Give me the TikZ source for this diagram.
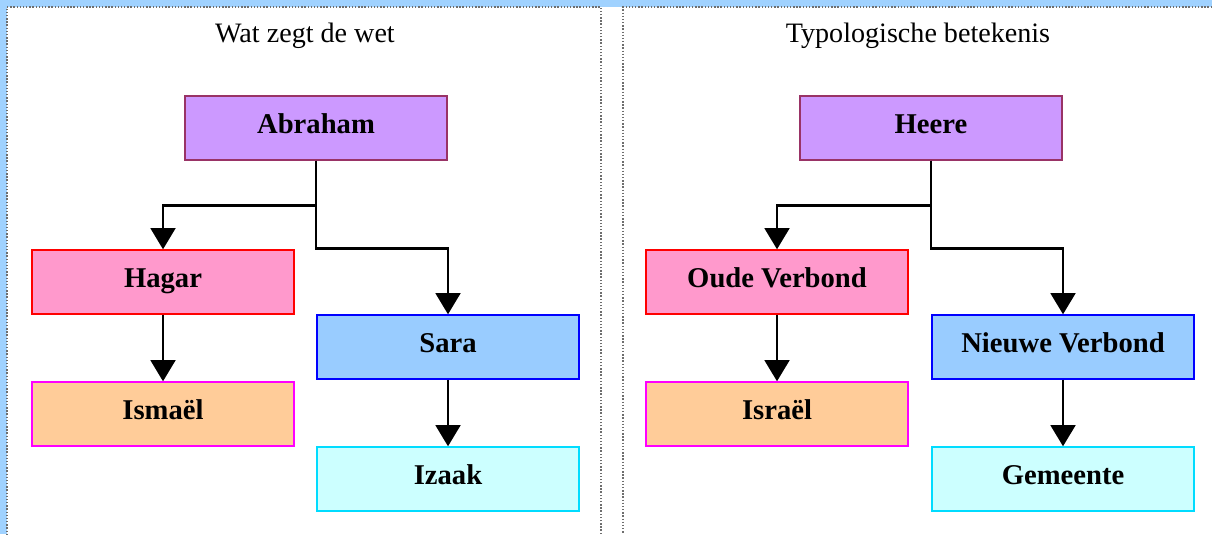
\documentclass[tikz,border=0pt]{standalone}
\usepackage{fontspec}
\setmainfont{Liberation Serif}
\usepackage{xcolor}
\usepackage{tikz}
\usetikzlibrary{arrows.meta, positioning, calc}
\definecolor{bandblue}{RGB}{160, 210, 255}
\definecolor{framegray}{RGB}{110, 110, 110}
\definecolor{rootfill}{RGB}{204, 153, 255}
\definecolor{rootdraw}{RGB}{153, 51, 102}
\definecolor{leftfill}{RGB}{255, 153, 204}
\definecolor{leftdraw}{RGB}{255, 0, 0}
\definecolor{leftkidfill}{RGB}{255, 204, 153}
\definecolor{leftkiddraw}{RGB}{255, 0, 255}
\definecolor{rightfill}{RGB}{153, 204, 255}
\definecolor{rightdraw}{RGB}{0, 0, 255}
\definecolor{rightkidfill}{RGB}{204, 255, 255}
\definecolor{rightkiddraw}{RGB}{0, 220, 255}

\begin{document}
\begin{tikzpicture}[
    x=0.02cm, y=-0.02cm,
    namebox/.style={rectangle, thick, minimum width=5.24cm, minimum height=1.28cm, inner sep=0pt, text height=11pt, text depth=5pt, text centered, font=\fontsize{16.3}{19}\selectfont\bfseries},
    panel/.style={draw=framegray, densely dotted, line width=0.8pt},
    paneltitle/.style={font=\fontsize{16}{19}\selectfont},
    arrow/.style={-{Triangle[width=14pt, length=12pt]}, line width=1.6pt, black}
]
\useasboundingbox (0,0) rectangle (1212,534);

% background and the two panels
\fill[bandblue] (0,0) rectangle (1212,534);
\fill[white] (7,7) rectangle (1212,534);
\draw[panel] (601,534) -- (601,7) -- (7,7) -- (7,534);
\draw[panel] (1212,7) -- (623,7) -- (623,534);

% left panel
\node[paneltitle] (lefttitle) at (305,36) {Wat zegt de wet};
\node[namebox, fill=rootfill, draw=rootdraw] (abraham) at (316,128) {Abraham};
\node[namebox, fill=leftfill, draw=leftdraw] (hagar) at (163,282) {Hagar};
\node[namebox, fill=leftkidfill, draw=leftkiddraw] (ismael) at (163,414) {Ismaël};
\node[namebox, fill=rightfill, draw=rightdraw] (sara) at (448,347) {Sara};
\node[namebox, fill=rightkidfill, draw=rightkiddraw] (izaak) at (448,479) {Izaak};

\draw[arrow] (abraham.south) -- ++(0,45) -| (hagar.north);
\draw[arrow] (abraham.south) -- ++(0,88) -| (sara.north);
\draw[arrow] (hagar) -- (ismael);
\draw[arrow] (sara) -- (izaak);

% right panel
\node[paneltitle] (righttitle) at (918,36) {Typologische betekenis};
\node[namebox, fill=rootfill, draw=rootdraw] (heere) at (931,128) {Heere};
\node[namebox, fill=leftfill, draw=leftdraw] (oude) at (777,282) {Oude Verbond};
\node[namebox, fill=leftkidfill, draw=leftkiddraw] (israel) at (777,414) {Israël};
\node[namebox, fill=rightfill, draw=rightdraw] (nieuwe) at (1063,347) {Nieuwe Verbond};
\node[namebox, fill=rightkidfill, draw=rightkiddraw] (gemeente) at (1063,479) {Gemeente};

\draw[arrow] (heere.south) -- ++(0,45) -| (oude.north);
\draw[arrow] (heere.south) -- ++(0,88) -| (nieuwe.north);
\draw[arrow] (oude) -- (israel);
\draw[arrow] (nieuwe) -- (gemeente);

\end{tikzpicture}
\end{document}
